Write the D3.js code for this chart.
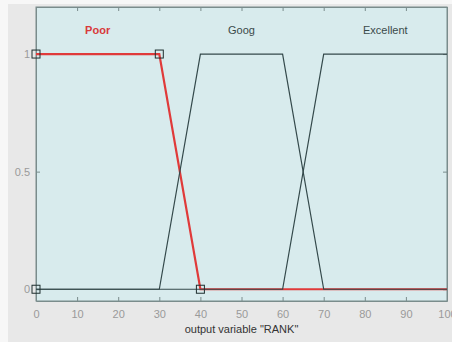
<!DOCTYPE html>
<html>
<head>
<meta charset="utf-8">
<script src="https://cdn.jsdelivr.net/npm/d3@7"></script>
<style>
  body { margin: 0; background: #f7f7f7; }
  svg { display: block; }
</style>
</head>
<body>
<svg id="chart"></svg>
<script>
// membership function breakpoints (x, degree)
const poorX = [0, 30, 40, 100]
const poorY = [1, 1, 0, 0]
const goodX = [0, 30, 40, 60, 70, 100]
const goodY = [0, 0, 1, 1, 0, 0]
const excellentX = [0, 60, 70, 100]
const excellentY = [0, 0, 1, 1]
// squares on the selected (Poor) function
const markerX = [0, 0, 30, 40]
const markerY = [0, 1, 1, 0]

const mfNames = ["Poor", "Goog", "Excellent"]
const mfLabelX = [15, 50, 85]
const xTicks = [0, 10, 20, 30, 40, 50, 60, 70, 80, 90, 100]
const yTicks = [0, 0.5, 1]
const xTitle = 'output variable "RANK"'

const W = 452, H = 342
const margin = {top: 7, right: 5, bottom: 41, left: 36}
const width = W - margin.left - margin.right
const height = H - margin.top - margin.bottom

const root = d3.select("#chart").attr("width", W).attr("height", H)

// grey figure background
root.append("rect")
  .attr("x", 8).attr("y", 4)
  .attr("width", W - 8).attr("height", H - 4)
  .attr("fill", "#e8e8e8")

const svg = root.append("g")
  .attr("transform", `translate(${margin.left}, ${margin.top})`)

const xScale = d3.scaleLinear().domain([0, 100]).range([0, width])
const yScale = d3.scaleLinear().domain([-0.05, 1.2]).range([height, 0])

// plot area
svg.append("rect")
  .attr("width", width).attr("height", height)
  .attr("fill", "#d8ebed")

const axisColor = "#7a8c8c"
const labelColor = "#9a9a9a"

// bottom axis, ticks pointing inward
const bottom = svg.append("g")
  .attr("transform", `translate(0, ${height})`)
  .call(d3.axisBottom(xScale).tickValues(xTicks).tickSizeInner(-4).tickSizeOuter(0).tickPadding(9))
bottom.selectAll("text")
  .attr("fill", labelColor).style("font-family", "Arial, 'Liberation Sans', sans-serif").style("font-size", "11px")

// top axis mirror ticks
svg.append("g")
  .call(d3.axisTop(xScale).tickValues(xTicks).tickSizeInner(-4).tickSizeOuter(0).tickFormat(""))

// left axis
const left = svg.append("g")
  .call(d3.axisLeft(yScale).tickValues(yTicks).tickSizeInner(-4).tickSizeOuter(0).tickPadding(6).tickFormat(d3.format("")))
left.selectAll("text")
  .attr("fill", labelColor).style("font-family", "Arial, 'Liberation Sans', sans-serif").style("font-size", "11px")

// right axis mirror ticks
svg.append("g")
  .attr("transform", `translate(${width}, 0)`)
  .call(d3.axisRight(yScale).tickValues(yTicks).tickSizeInner(-4).tickSizeOuter(0).tickFormat(""))

svg.selectAll(".domain").attr("stroke", axisColor)
svg.selectAll(".tick line").attr("stroke", axisColor)

// frame
svg.append("rect")
  .attr("width", width).attr("height", height)
  .attr("fill", "none").attr("stroke", axisColor).attr("stroke-width", 1)

const line = d3.line()
  .x(d => xScale(d[0]))
  .y(d => yScale(d[1]))

// selected function first, so the dark lines lie on top of it
svg.append("path")
  .datum(d3.zip(poorX, poorY))
  .attr("fill", "none")
  .attr("stroke", "#e03a3a")
  .attr("stroke-width", 2.2)
  .attr("d", line)

;[[goodX, goodY], [excellentX, excellentY]].forEach(([xs, ys]) => {
  svg.append("path")
    .datum(d3.zip(xs, ys))
    .attr("fill", "none")
    .attr("stroke", "#34494b")
    .attr("stroke-width", 1.2)
    .attr("d", line)
})

// vertex markers
svg.selectAll("rect.marker")
  .data(d3.zip(markerX, markerY))
  .enter()
  .append("rect")
  .attr("class", "marker")
  .attr("x", d => xScale(d[0]) - 4)
  .attr("y", d => yScale(d[1]) - 4)
  .attr("width", 8).attr("height", 8)
  .attr("fill", "none")
  .attr("stroke", "#1e2e2e")
  .attr("stroke-width", 1)

// function names
svg.selectAll("text.mf")
  .data(mfNames)
  .enter()
  .append("text")
  .attr("class", "mf")
  .attr("x", (d, i) => xScale(mfLabelX[i]))
  .attr("y", yScale(1.1))
  .attr("dy", "0.35em")
  .attr("text-anchor", "middle")
  .style("font-family", "Arial, 'Liberation Sans', sans-serif")
  .style("font-size", "11px")
  .style("font-weight", (d, i) => i === 0 ? "bold" : "normal")
  .attr("fill", (d, i) => i === 0 ? "#d83a3a" : "#3a4a4a")
  .text(d => d)

// x-axis title
svg.append("text")
  .attr("x", width / 2)
  .attr("y", height + 32)
  .attr("text-anchor", "middle")
  .style("font-family", "Arial, 'Liberation Sans', sans-serif")
  .style("font-size", "11px")
  .attr("fill", "#333")
  .text(xTitle)
</script>
</body>
</html>
